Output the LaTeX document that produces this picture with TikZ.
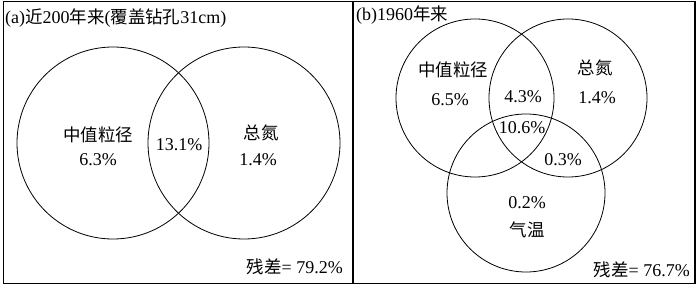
\documentclass[tikz,border=0pt]{standalone}
\usepackage{fontspec}
\setmainfont{Liberation Serif}
\newfontfamily\cjk[Scale=0.97]{Noto Sans CJK SC}
\begin{document}
\begin{tikzpicture}[x=1pt,y=-1pt,
  venn/.style={draw=black,line width=0.8pt},
  frame/.style={draw=black,line width=1.6pt},
  lbl/.style={font=\fontsize{18}{20}\selectfont,inner sep=0pt,align=center},
  ttl/.style={font=\fontsize{18}{20}\selectfont,inner sep=0pt,anchor=west}]
\useasboundingbox (0,0) rectangle (700,288);
\fill[white] (0,0) rectangle (700,288);
% frame
\draw[frame] (3.5,1.5) rectangle (695,283.5);
\draw[frame] (353,1.5) -- (353,283.5);
% panel a
\node[venn,circle,minimum size=192pt,inner sep=0pt] (aL) at (113,143) {};
\node[venn,circle,minimum size=192pt,inner sep=0pt] (aR) at (244,143) {};
\node[ttl] (ta) at (5,18) {(a){\cjk 近}200{\cjk 年来}({\cjk 覆盖钻孔}31cm)};
\node[lbl] (a1) at (98,135) {\cjk 中值粒径};
\node[lbl] (a2) at (98,160) {6.3\%};
\node[lbl] (a3) at (179,145) {13.1\%};
\node[lbl] (a4) at (261,133) {\cjk 总氮};
\node[lbl] (a5) at (258,160) {1.4\%};
\node[lbl,anchor=east] (a6) at (343,267) {{\cjk 残差}= 79.2\%};
% panel b
\node[venn,circle,minimum size=158pt,inner sep=0pt] (bL) at (475,98) {};
\node[venn,circle,minimum size=158pt,inner sep=0pt] (bR) at (568,98) {};
\node[venn,circle,minimum size=158pt,inner sep=0pt] (bB) at (526,193) {};
\node[ttl] (tb) at (356,15) {(b)1960{\cjk 年来}};
\node[lbl] (b1) at (453,70) {\cjk 中值粒径};
\node[lbl] (b2) at (450,100) {6.5\%};
\node[lbl] (b3) at (523,97) {4.3\%};
\node[lbl] (b4) at (595,68) {\cjk 总氮};
\node[lbl] (b5) at (597,98) {1.4\%};
\node[lbl] (b6) at (522,128) {10.6\%};
\node[lbl] (b7) at (563,160) {0.3\%};
\node[lbl] (b8) at (527,203) {0.2\%};
\node[lbl] (b9) at (527,230) {\cjk 气温};
\node[lbl,anchor=east] (b10) at (690,270) {{\cjk 残差}= 76.7\%};
\end{tikzpicture}
\end{document}
